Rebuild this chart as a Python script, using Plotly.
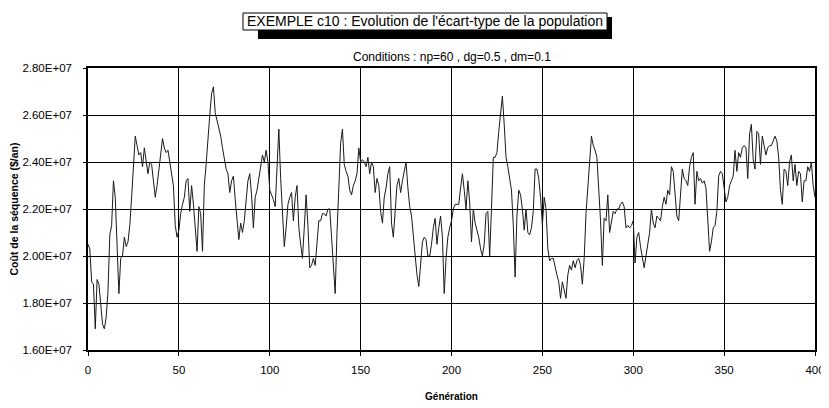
import plotly.graph_objects as go

# Cost of the sequence, in units of 1e7 $/an, one value per generation (0..400)
cost_e7 = [
    2.05, 2.03, 1.89, 1.88, 1.69, 1.90, 1.88, 1.79, 1.71, 1.69,
    1.74, 1.85, 2.09, 2.13, 2.32, 2.25, 2.03, 1.84, 1.99, 2.00,
    2.08, 2.04, 2.06, 2.13, 2.25, 2.39, 2.51, 2.47, 2.43, 2.44,
    2.38, 2.46, 2.40, 2.35, 2.40, 2.39, 2.32, 2.25, 2.30, 2.36,
    2.42, 2.50, 2.46, 2.44, 2.45, 2.40, 2.37, 2.30, 2.13, 2.08,
    2.11, 2.18, 2.22, 2.25, 2.32, 2.33, 2.19, 2.30, 2.22, 2.10,
    2.02, 2.21, 2.18, 2.02, 2.30, 2.39, 2.52, 2.60, 2.69, 2.72,
    2.61, 2.58, 2.55, 2.51, 2.46, 2.42, 2.37, 2.35, 2.27, 2.32,
    2.34, 2.24, 2.15, 2.07, 2.14, 2.10, 2.15, 2.25, 2.32, 2.35,
    2.26, 2.12, 2.25, 2.28, 2.33, 2.40, 2.43, 2.40, 2.45, 2.40,
    2.28, 2.26, 2.24, 2.21, 2.39, 2.54, 2.33, 2.18, 2.04, 2.12,
    2.22, 2.25, 2.27, 2.15, 2.25, 2.30, 2.12, 2.05, 1.99, 2.12,
    2.26, 2.13, 1.95, 1.96, 1.99, 1.96, 2.05, 2.15, 2.15, 2.18,
    2.18, 2.17, 2.20, 2.20, 2.08, 1.93, 1.84, 2.10, 2.32, 2.48,
    2.54, 2.39, 2.36, 2.34, 2.28, 2.26, 2.30, 2.32, 2.35, 2.46,
    2.40, 2.41, 2.40, 2.38, 2.42, 2.35, 2.40, 2.38, 2.27, 2.33,
    2.30, 2.19, 2.14, 2.25, 2.29, 2.35, 2.38, 2.14, 2.08, 2.20,
    2.30, 2.33, 2.27, 2.32, 2.37, 2.40, 2.29, 2.21, 2.17, 2.08,
    1.99, 1.92, 1.87, 1.96, 2.06, 2.08, 2.07, 2.00, 2.00, 2.05,
    2.12, 2.16, 2.05, 2.12, 2.17, 2.08, 1.84, 1.99, 2.08, 2.12,
    2.15, 2.20, 2.22, 2.22, 2.22, 2.29, 2.35, 2.28, 2.20, 2.32,
    2.23, 2.06, 2.20, 2.14, 2.11, 2.08, 2.03, 2.00, 2.05, 2.18,
    2.19, 2.00, 2.20, 2.42, 2.42, 2.44, 2.53, 2.60, 2.68, 2.56,
    2.42, 2.38, 2.33, 2.28, 2.13, 1.91, 2.17, 2.28, 2.26, 2.20,
    2.11, 2.20, 2.10, 2.09, 2.12, 2.19, 2.37, 2.37, 2.33, 2.25,
    2.13, 2.25, 2.20, 2.03, 1.98, 1.99, 1.99, 1.95, 1.92, 1.89,
    1.82, 1.89, 1.85, 1.82, 1.92, 1.96, 1.94, 1.98, 1.95, 1.98,
    1.99, 1.96, 1.88, 1.99, 2.18, 2.29, 2.42, 2.51, 2.47, 2.45,
    2.42, 2.30, 2.15, 1.96, 2.16, 2.15, 2.26, 2.10, 2.15, 2.19,
    2.18, 2.20, 2.20, 2.22, 2.23, 2.21, 2.12, 2.13, 2.12, 2.13,
    2.15, 1.97, 2.08, 2.10, 2.04, 2.00, 1.95, 2.00, 2.05, 2.10,
    2.20, 2.14, 2.12, 2.17, 2.16, 2.15, 2.21, 2.25, 2.22, 2.28,
    2.26, 2.38, 2.36, 2.25, 2.17, 2.15, 2.25, 2.37, 2.33, 2.32,
    2.30, 2.38, 2.42, 2.44, 2.22, 2.36, 2.32, 2.33, 2.31, 2.32,
    2.29, 2.15, 2.02, 2.06, 2.12, 2.13, 2.19, 2.34, 2.36, 2.35,
    2.28, 2.23, 2.25, 2.30, 2.32, 2.34, 2.45, 2.36, 2.44, 2.42,
    2.46, 2.47, 2.46, 2.33, 2.52, 2.56, 2.41, 2.37, 2.53, 2.52,
    2.39, 2.51, 2.47, 2.43, 2.46, 2.47, 2.47, 2.49, 2.51, 2.49,
    2.42, 2.28, 2.22, 2.37, 2.36, 2.30, 2.40, 2.43, 2.32, 2.39,
    2.30, 2.36, 2.35, 2.23, 2.32, 2.32, 2.38, 2.36, 2.40, 2.30,
    2.25,
]
generations = list(range(len(cost_e7)))

y_tick_values = [1.6e7, 1.8e7, 2.0e7, 2.2e7, 2.4e7, 2.6e7, 2.8e7]
y_tick_labels = ["1.60E+07", "1.80E+07", "2.00E+07", "2.20E+07", "2.40E+07", "2.60E+07", "2.80E+07"]
x_tick_values = [0, 50, 100, 150, 200, 250, 300, 350, 400]

title_text = "EXEMPLE c10 : Evolution de l'écart-type de la population"
subtitle_text = "Conditions : np=60 , dg=0.5 , dm=0.1"
x_title = "Génération"
y_title = "Coût de la séquence ($/an)"

FONT = "Arial, 'Liberation Sans', sans-serif"

fig = go.Figure()
fig.add_trace(go.Scatter(
    x=generations,
    y=[v * 1e7 for v in cost_e7],
    mode="lines",
    line=dict(color="#1a1a1a", width=1),
    hoverinfo="x+y",
    showlegend=False,
))

# the page body adds an 8px offset, so the figure is 8px smaller than the window
fig.update_layout(
    width=821, height=400,
    margin=dict(l=80, r=14, t=60, b=58),
    paper_bgcolor="white", plot_bgcolor="white",
    font=dict(family=FONT, color="black", size=11),
    xaxis=dict(
        range=[0, 400], tickvals=x_tick_values, automargin=False,
        showgrid=True, gridcolor="black", gridwidth=1,
        showline=True, linecolor="black", linewidth=1.5, mirror=True,
        ticks="outside", ticklen=4, tickcolor="black",
        tickfont=dict(size=11.5), ticklabelstandoff=4,
        zeroline=False,
        title=dict(text="<b>" + x_title + "</b>", font=dict(size=10), standoff=18),
    ),
    yaxis=dict(
        range=[1.6e7, 2.8e7], tickvals=y_tick_values, ticktext=y_tick_labels,
        automargin=False,
        showgrid=True, gridcolor="black", gridwidth=1,
        showline=True, linecolor="black", linewidth=1.5, mirror=True,
        ticks="outside", ticklen=3, tickcolor="black",
        tickfont=dict(size=11.5), ticklabelstandoff=9,
        zeroline=False,
        title=dict(text="<b>" + y_title + "</b>", font=dict(size=10.5), standoff=6),
    ),
    shapes=[
        # shadow of title box
        dict(type="rect", xref="paper", yref="paper",
             x0=0.2338, x1=0.7208, y0=1.1028, y1=1.1809,
             fillcolor="black", line=dict(width=0), layer="above"),
        # title box
        dict(type="rect", xref="paper", yref="paper",
             x0=0.2132, x1=0.7139, y0=1.1348, y1=1.195,
             fillcolor="white", line=dict(color="black", width=1), layer="above"),
    ],
    annotations=[
        dict(text=title_text, xref="paper", yref="paper", x=0.4635, y=1.165,
             xanchor="center", yanchor="middle", showarrow=False,
             font=dict(size=14, color="black")),
        dict(text=subtitle_text, xref="paper", yref="paper", x=0.5, y=1.039,
             xanchor="center", yanchor="middle", showarrow=False,
             font=dict(size=12, color="black")),
    ],
)

fig.write_html("out.html")
